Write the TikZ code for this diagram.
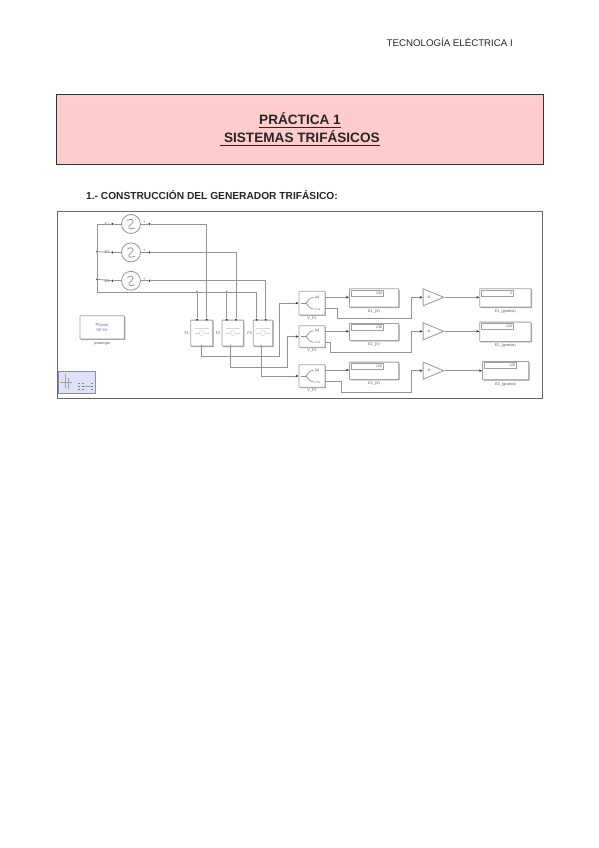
\documentclass[tikz,border=0pt]{standalone}
\usepackage{xcolor}
\usepackage{amssymb}
\usepackage{fontspec}
\setmainfont{Liberation Sans}
\usetikzlibrary{shapes.geometric, arrows.meta, positioning, calc, shadows}
\definecolor{titlepink}{HTML}{FFCCCC}
\definecolor{framegray}{HTML}{666666}
\definecolor{wiregray}{HTML}{949494}
\definecolor{blockgray}{HTML}{A0A0A0}
\definecolor{phasorblue}{HTML}{6A6FA8}
\definecolor{thumbfill}{HTML}{DFE1F6}
\begin{document}
\begin{tikzpicture}[
    x=1pt, y=-1pt,
    wire/.style={color=wiregray, line width=0.75pt},
    arr/.style={wire, -{Stealth[length=3pt,width=2.6pt,color=black!80]}},
    port/.style={circle, fill=black!75, inner sep=0pt, minimum size=2.4pt},
    softport/.style={circle, fill=blockgray, inner sep=0pt, minimum size=1.5pt},
    block/.style={rectangle, rounded corners=0.6pt, draw=blockgray, fill=white, line width=0.8pt, inner sep=0pt, drop shadow={shadow xshift=0.9pt, shadow yshift=-0.9pt, fill=blockgray, opacity=1}},
    source/.style={circle, draw=wiregray, fill=white, line width=0.8pt, inner sep=0pt, minimum size=19pt},
    phase/.style={block, minimum height=26pt},
    meas/.style={block, minimum width=26pt},
    disp/.style={block, anchor=north west},
    dispval/.style={rectangle, draw=blockgray, fill=white, line width=0.5pt, anchor=north west, minimum width=32pt, minimum height=6pt, inner sep=0.6pt, text width=30.5pt, align=right, font=\fontsize{3.6}{4}\selectfont, text=black!65},
    gainbox/.style={isosceles triangle, isosceles triangle stretches, draw=blockgray, fill=white, line width=0.9pt, inner sep=0pt, minimum width=17pt, minimum height=20.6pt, anchor=west, font=\fontsize{3.6}{4}\selectfont, text=black!65},
    tag/.style={inner sep=0pt, font=\fontsize{3.8}{4.4}\selectfont, text=black!65},
]
\useasboundingbox (0,0) rectangle (599,848);

% ─── Header ───
\node[anchor=east, inner sep=0pt, font=\fontsize{9.7}{11}\selectfont, text=black!85] (subject) at (513,42.7) {TECNOLOGÍA ELÉCTRICA I};
\node[rectangle, draw=black!80, fill=titlepink, line width=0.8pt, minimum width=486.6pt, minimum height=70.7pt, align=center, font=\fontsize{13.6}{18}\selectfont\bfseries, text=black!85] (title) at (300,129.3) {\underline{PRÁCTICA 1}\\\underline{~SISTEMAS TRIFÁSICOS}};
\node[anchor=west, inner sep=0pt, font=\fontsize{10.2}{12}\selectfont\bfseries, text=black!85] (section) at (86,195) {1.- CONSTRUCCIÓN DEL GENERADOR TRIFÁSICO:};

% ─── Frame ───
\node[rectangle, draw=framegray, fill=white, line width=1.1pt, minimum width=485pt, minimum height=187.5pt] (frame) at (300.3,304.8) {};

% ─── Sources ───
\node[source] (e1) at (131,224) {};
\node[source, below=8.6pt of e1] (e2) {};
\node[source, below=8.6pt of e2] (e3) {};
\foreach \s/\t in {e1/E1, e2/E2, e3/E3} {
    \node[port, left=7.3pt of \s] (\s l) {};
    \node[port, right=7.1pt of \s] (\s r) {};
    \node[tag, left=1.5pt of \s l] {\t};
    \node[tag, above right=0.5pt and 2pt of \s.east] {+};
    \draw[wire] (\s l) -- (\s.west);
    \draw[wire] (\s.east) -- (\s r);
    \draw[wire] ($(\s)+(-3.6,-3.2)$) .. controls ($(\s)+(-1,-6.5)$) and ($(\s)+(5,-4)$) .. ($(\s)+(0.5,0)$) .. controls ($(\s)+(-5,4)$) and ($(\s)+(-2,6)$) .. ($(\s)+(3.8,4)$);
}

% ─── Phase blocks ───
\node[phase, minimum width=22pt, anchor=north west] (f1) at (190.3,319.7) {};
\node[phase, minimum width=21.6pt, right=8.4pt of f1] (f2) {};
\node[phase, minimum width=19.4pt, right=9pt of f2] (f3) {};
\foreach \b/\t/\ia/\ib/\oc in {f1/F1/197/206.7/201.7, f2/F2/226.7/236/230.7, f3/F3/256.7/265.7/261} {
    \node[port] (\b a) at (\ia,319.7) {};
    \node[port] (\b b) at (\ib,319.7) {};
    \node[softport] (\b c) at (\oc,345.2) {};
    \node[tag, left=1pt of \b] {\t};
    \draw[blockgray!45, line width=0.5pt] ($(\b)+(-7,-5)$) -- ($(\b)+(7,-5)$);
    \draw[blockgray!45, line width=0.5pt] ($(\b)+(-7,0)$) -- ($(\b)+(-3,0)$);
    \draw[blockgray!45, line width=0.5pt] ($(\b)+(3,0)$) -- ($(\b)+(7,0)$);
    \draw[blockgray!50, line width=0.5pt] (\b) circle (2.4pt);
}

% ─── Bus and source wires ───
\coordinate (bustop) at (97,224);
\coordinate (busbot) at (97,292.3);
\node[port, minimum size=2pt] (j2) at (97,251.7) {};
\node[port, minimum size=2pt] (j3) at (97,279.3) {};
\node[port] (j4) at (197,292.3) {};
\node[port] (j5) at (226.7,292.3) {};
\draw[wire] (e1l) -- (bustop) -- (busbot) -- (busbot -| f3a) -- (f3a);
\draw[wire] (j2) -- (e2l);
\draw[wire] (j3) -- (e3l);
\draw[wire] (j4) -- (f1a);
\draw[wire] (j5) -- (f2a);
\draw[wire] (e1r) -| (f1b);
\draw[wire] (e2r) -| (f2b);
\draw[wire] (e3r) -| (f3b);

% ─── Measurement blocks ───
\node[meas, minimum height=23.7pt] (v1) at (312,303.15) {};
\node[meas, minimum height=21.6pt] (v2) at (312,336.5) {};
\node[meas, minimum height=22.6pt] (v3) at (312,376) {};
\foreach \b/\t in {v1/V\_F1, v2/V\_F2, v3/V\_F3} {
    \node[tag, below=1.2pt of \b] {\t};
    \draw[wire] ($(\b.west)+(2.5,0)$) -- ($(\b.west)+(7.5,0)$);
    \draw[wire] ($(\b.west)+(15,-5.8)$) .. controls ($(\b.west)+(10,-5.8)$) and ($(\b.west)+(9,-1)$) .. ($(\b.west)+(7.5,0)$) .. controls ($(\b.west)+(9,1)$) and ($(\b.west)+(10,5.8)$) .. ($(\b.west)+(15,5.8)$);
    \node[tag, anchor=west] at ($(\b.west)+(16,-5.8)$) {|u|};
    \node[tag, anchor=west] at ($(\b.west)+(15,5.8)$) {$\angle$u};
}
\coordinate (v1u) at (325,297.3);
\coordinate (v1p) at (325,308.7);
\coordinate (v2u) at (325,331.3);
\coordinate (v2p) at (325,342);
\coordinate (v3u) at (325,370);
\coordinate (v3p) at (325,381.7);

\draw[arr] (f1c) -- ++(0,11.5) -- ++(77.3,0) |- (v1.west);
\draw[arr] (f2c) -- ++(0,22.1) -- ++(56.3,0) |- (v2.west);
\draw[arr] (f3c) |- (v3.west);

% ─── Voltage displays ───
\node[disp, minimum width=49.3pt, minimum height=18.4pt] (e1v) at (349,288.3) {};
\node[disp, minimum width=49.3pt, minimum height=17pt] (e2v) at (349,323) {};
\node[disp, minimum width=49.3pt, minimum height=17.3pt] (e3v) at (349,361.7) {};
\foreach \d/\t/\val in {e1v/E1\_(V)/230, e2v/E2\_(V)/230, e3v/E3\_(V)/230} {
    \node[dispval] at ($(\d.north west)+(1.7,1.4)$) {\val};
    \node[tag, below=2pt of \d] {\t};
}
\draw[arr] (v1u) -- (v1u -| e1v.west);
\draw[arr] (v2u) -- (v2u -| e2v.west);
\draw[arr] (v3u) -- (v3u -| e3v.west);

% ─── Gains ───
\node[gainbox] (g1) at (422.7,297.3) {-K-};
\node[gainbox] (g2) at (422.7,331.3) {-K-};
\node[gainbox] (g3) at (422.7,370.7) {-K-};
\draw[arr] (v1p) -- ++(12.3,0) -- ++(0,9.6) -- ++(74.4,0) |- (g1.west);
\draw[arr] (v2p) -- ++(5,0) -- ++(0,10.7) -- ++(81.7,0) |- (g2.west);
\draw[arr] (v3p) -- ++(16.7,0) -- ++(0,11) -- ++(70,0) |- (g3.west);

% ─── Angle displays ───
\node[disp, minimum width=51.4pt, minimum height=18.4pt] (e1g) at (479.3,288.3) {};
\node[disp, minimum width=51.4pt, minimum height=19.3pt] (e2g) at (479.3,321.7) {};
\node[disp, minimum width=46.3pt, minimum height=18.3pt] (e3g) at (482,361) {};
\foreach \d/\t/\val in {e1g/E1\_(grados)/0, e2g/E2\_(grados)/-120, e3g/E3\_(grados)/120} {
    \node[dispval] at ($(\d.north west)+(1.5,1.4)$) {\val};
    \node[tag, below=2pt of \d] {\t};
}
\draw[arr] (g1.east) -- (g1.east -| e1g.west);
\draw[arr] (g2.east) -- (g2.east -| e2g.west);
\draw[arr] (g3.east) -- (g3.east -| e3g.west);

% ─── Powergui ───
\node[block, minimum width=44.3pt, minimum height=23.3pt, align=center, font=\fontsize{4.2}{5.4}\selectfont, text=phasorblue] (powergui) at (102.2,327.3) {Phasor\\50 Hz};
\node[tag, below=2pt of powergui] {powergui};

% ─── Thumbnail ───
\node[rectangle, draw=phasorblue!80, fill=thumbfill, line width=0.6pt, minimum width=37pt, minimum height=22pt, inner sep=0pt] (thumb) at (76.8,382.3) {};
\draw[blockgray, line width=0.4pt] ($(thumb.west)+(2,0)$) -- ($(thumb.west)+(14,0)$);
\draw[blockgray, line width=0.4pt] ($(thumb.west)+(7,-8)$) -- ($(thumb.west)+(7,6)$);
\draw[blockgray, line width=0.4pt] ($(thumb.west)+(10,-4)$) -- ($(thumb.west)+(10,7)$);
\foreach \dx in {20,24,33} {
    \foreach \dy in {1,4,7} {
        \fill[black!50] ($(thumb.west)+(\dx,\dy)$) rectangle ++(2,1);
    }
}
\draw[blockgray, line width=0.4pt] ($(thumb.west)+(26,4)$) -- ($(thumb.west)+(33,4)$);
\end{tikzpicture}
\end{document}
